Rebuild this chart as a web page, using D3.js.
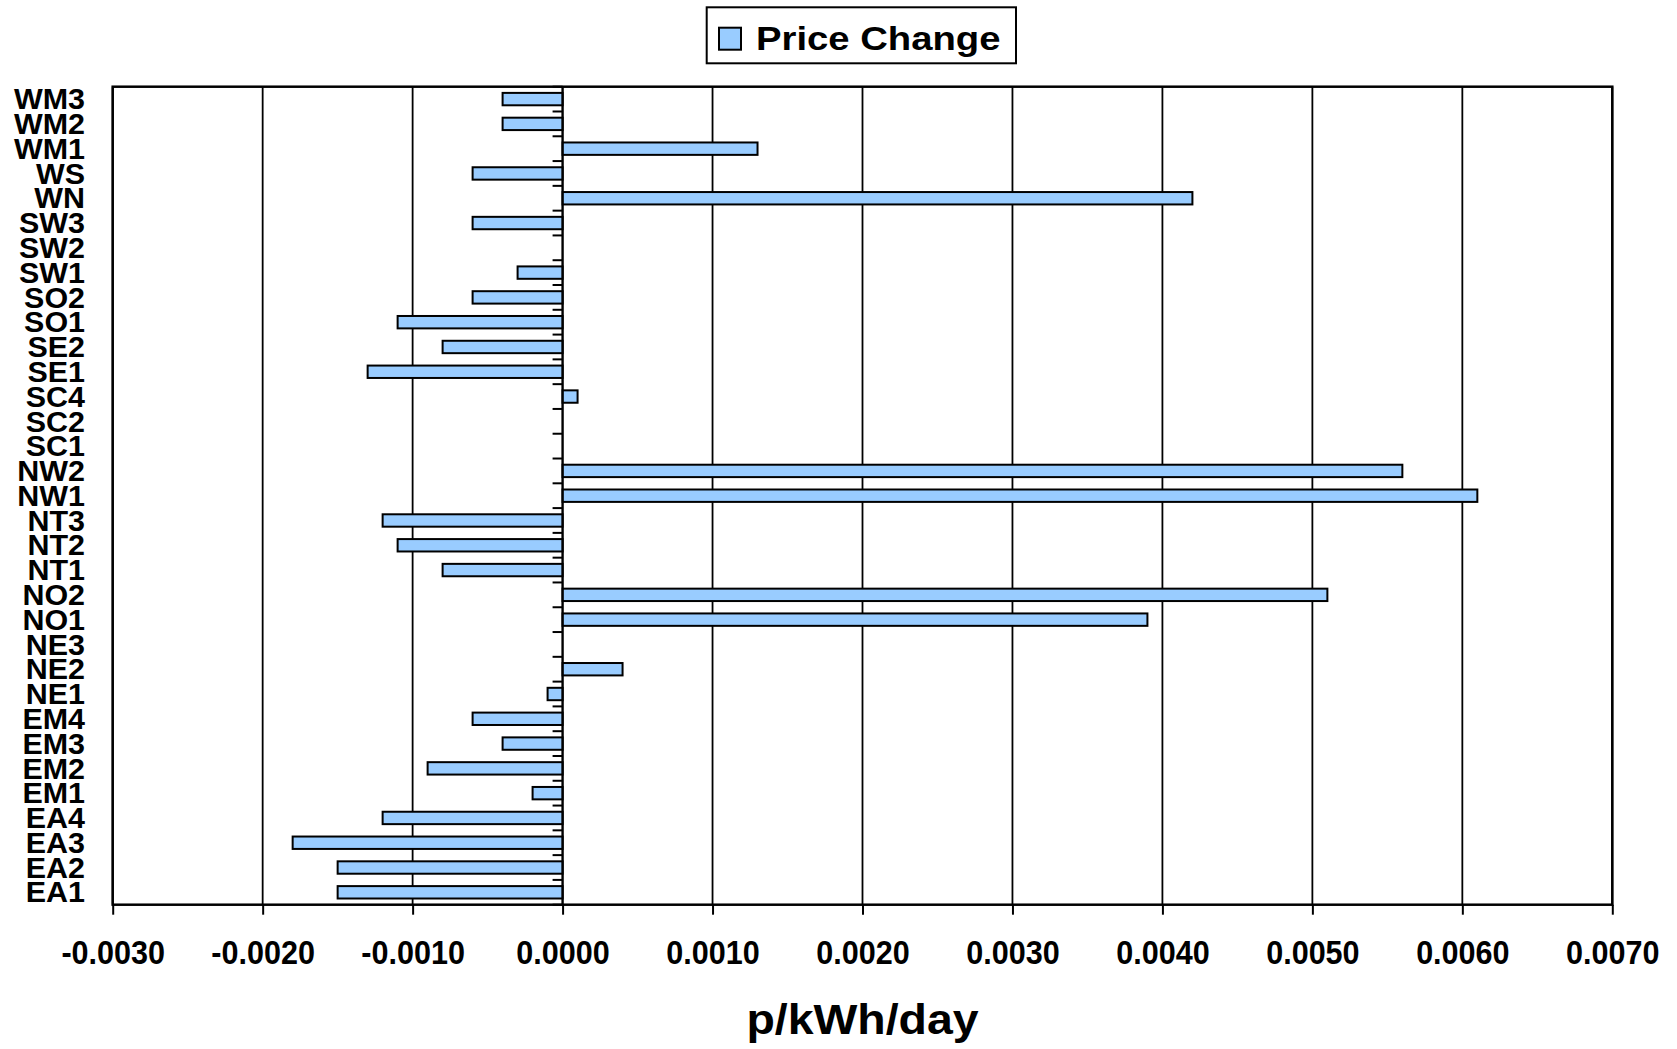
<!DOCTYPE html>
<html lang="en">
<head>
    <meta charset="UTF-8">
    <title>Price Change</title>
    <script src="https://cdnjs.cloudflare.com/ajax/libs/d3/7.8.5/d3.min.js"></script>
    <style>
        body { margin: 0; background: #fff; font-family: "Liberation Sans", Arial, sans-serif; }
        svg text { font-weight: bold; fill: #000; }
    </style>
</head>
<body>
    <svg width="1677" height="1049"></svg>

    <script>
        // categories listed top to bottom as in the chart
        const regions = ["WM3", "WM2", "WM1", "WS", "WN", "SW3", "SW2", "SW1", "SO2", "SO1", "SE2", "SE1",
            "SC4", "SC2", "SC1", "NW2", "NW1", "NT3", "NT2", "NT1", "NO2", "NO1", "NE3", "NE2", "NE1",
            "EM4", "EM3", "EM2", "EM1", "EA4", "EA3", "EA2", "EA1"];
        const priceChange = [-0.0004, -0.0004, 0.0013, -0.0006, 0.0042, -0.0006, 0, -0.0003, -0.0006, -0.0011, -0.0008, -0.0013,
            0.0001, 0, 0, 0.0056, 0.0061, -0.0012, -0.0011, -0.0008, 0.0051, 0.0039, 0, 0.0004, -0.0001,
            -0.0006, -0.0004, -0.0009, -0.0002, -0.0012, -0.0018, -0.0015, -0.0015];
        const xTicks = [-0.003, -0.002, -0.001, 0, 0.001, 0.002, 0.003, 0.004, 0.005, 0.006, 0.007];
        const seriesName = "Price Change";
        const axisTitle = "p/kWh/day";

        const plotLeft = 112.7, plotRight = 1612.3, plotTop = 86.7, plotBottom = 904.7;
        const barColor = "#99ccff";

        let svg = d3.select("svg");

        let x = d3.scaleLinear().domain([-0.003, 0.007]).range([plotLeft, plotRight]);
        let y = d3.scaleBand().domain(regions).range([plotTop, plotBottom])
            .paddingInner(0.5).paddingOuter(0.25);

        // plain hyphen for negatives, like the original
        let fmt = d3.formatLocale({ decimal: ".", thousands: ",", grouping: [3], currency: ["", ""], minus: "-" }).format(".4f");

        // vertical gridlines
        svg.append("g").selectAll("line")
            .data(xTicks)
            .enter()
            .append("line")
            .attr("x1", d => x(d)).attr("x2", d => x(d))
            .attr("y1", plotTop).attr("y2", plotBottom)
            .attr("stroke", "#000").attr("stroke-width", 1.8);

        // bars
        let data = regions.map((r, i) => ({ region: r, value: priceChange[i] }));
        svg.append("g").selectAll("rect")
            .data(data.filter(d => d.value !== 0))
            .enter()
            .append("rect")
            .attr("x", d => x(Math.min(0, d.value)))
            .attr("width", d => Math.abs(x(d.value) - x(0)))
            .attr("y", d => y(d.region))
            .attr("height", y.bandwidth())
            .attr("fill", barColor)
            .attr("stroke", "#000").attr("stroke-width", 2);

        // category axis at zero with ticks between categories
        svg.append("line")
            .attr("x1", x(0)).attr("x2", x(0))
            .attr("y1", plotTop).attr("y2", plotBottom)
            .attr("stroke", "#000").attr("stroke-width", 2);
        let bounds = regions.map(r => y(r) - y.step() * y.paddingInner() / 2).concat([plotBottom]);
        svg.append("g").selectAll("line")
            .data(bounds)
            .enter()
            .append("line")
            .attr("x1", x(0) - 10).attr("x2", x(0))
            .attr("y1", d => d).attr("y2", d => d)
            .attr("stroke", "#000").attr("stroke-width", 2);

        // plot border
        svg.append("rect")
            .attr("x", plotLeft).attr("y", plotTop)
            .attr("width", plotRight - plotLeft).attr("height", plotBottom - plotTop)
            .attr("fill", "none").attr("stroke", "#000").attr("stroke-width", 2.5);

        // x axis
        let xAxis = svg.append("g")
            .attr("transform", `translate(0,${plotBottom})`)
            .call(d3.axisBottom(x).tickValues(xTicks).tickSize(10).tickFormat(fmt));
        xAxis.select(".domain").remove();
        xAxis.selectAll(".tick line").attr("stroke", "#000").attr("stroke-width", 2);
        xAxis.selectAll(".tick text")
            .attr("y", null).attr("dy", null)
            .attr("transform", "translate(0,59) scale(0.94,1)")
            .style("font-size", "32.5px")
            .style("font-family", "'Liberation Sans', Arial, sans-serif");

        // y labels
        let yAxis = svg.append("g")
            .attr("transform", "translate(85,0)")
            .call(d3.axisLeft(y).tickSize(0).tickPadding(0));
        yAxis.select(".domain").remove();
        yAxis.selectAll(".tick text")
            .attr("x", null)
            .attr("dy", "0.35em")
            .attr("transform", "scale(1.05,1)")
            .style("font-size", "29px")
            .style("font-family", "'Liberation Sans', Arial, sans-serif");

        // axis title
        svg.append("text")
            .attr("transform", `translate(${(plotLeft + plotRight) / 2},1034) scale(1.08,1)`)
            .attr("text-anchor", "middle")
            .style("font-size", "43px")
            .text(axisTitle);

        // legend
        let legend = svg.append("g");
        legend.append("rect")
            .attr("x", 706.7).attr("y", 7.3).attr("width", 309.3).attr("height", 56)
            .attr("fill", "#fff").attr("stroke", "#000").attr("stroke-width", 2);
        legend.append("rect")
            .attr("x", 719).attr("y", 27.7).attr("width", 22).attr("height", 22)
            .attr("fill", barColor).attr("stroke", "#000").attr("stroke-width", 2);
        legend.append("text")
            .attr("transform", "translate(756,50) scale(1.16,1)")
            .style("font-size", "33px")
            .text(seriesName);
    </script>
</body>
</html>
